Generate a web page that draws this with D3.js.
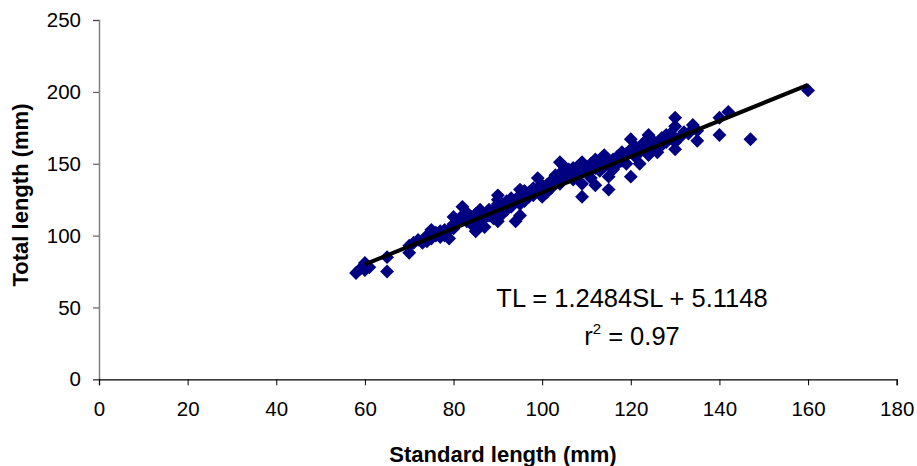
<!DOCTYPE html>
<html>
<head>
<meta charset="utf-8">
<script src="https://cdn.jsdelivr.net/npm/d3@7"></script>
<style>
  body { margin: 0; background: #fff; }
  svg { display: block; font-family: Arial, "Liberation Sans", sans-serif; }
</style>
</head>
<body>
<svg id="chart" width="917" height="466"></svg>
<script>
// standard length (mm) / total length (mm)
var standardLength = [58, 59, 60, 60, 61, 65, 65,
  70, 70, 71, 72, 73, 74, 74, 75, 75, 76, 76, 77, 77,
  78, 78, 79, 79, 80, 80, 80, 81, 82, 82, 83, 83,
  84, 84, 85, 85, 85, 86, 86, 87, 87, 88, 88,
  89, 89, 90, 90, 90, 90, 91, 91, 92, 92,
  93, 93, 94, 94, 95, 95, 95, 95, 96, 96, 96, 97, 97,
  98, 98, 99, 99, 100, 100, 100, 101, 101, 102, 102, 103, 103,
  104, 104, 104, 105, 105, 106, 106, 107, 107, 107, 108, 108,
  109, 109, 109, 110, 110, 111, 111, 112, 112, 112,
  113, 113, 114, 114, 115, 115, 115, 116, 116, 117, 117, 118, 118,
  119, 119, 120, 120, 120, 121, 121, 122, 122, 123, 123,
  124, 124, 125, 125, 126, 126, 127, 127, 128, 128,
  129, 130, 130, 130, 130, 131, 132, 133, 134, 135, 135,
  140, 140, 142, 147, 160];
var totalLength = [74, 77, 76, 81, 78, 85, 75,
  88, 93, 95, 97, 95, 96, 100, 98, 104, 100, 102, 99, 103,
  100, 104, 98, 104, 105, 108, 113, 110, 120, 114, 110, 116,
  108, 113, 103, 115, 112, 118, 108, 112, 106, 114, 118,
  118, 112, 128, 110, 122, 125, 115, 120, 118, 124,
  126, 120, 110, 125, 132, 122, 128, 114, 127, 124, 131, 130, 127,
  133, 128, 140, 133, 127, 135, 131, 135, 130, 138, 133, 137, 142,
  151, 143, 136, 148, 140, 141, 146, 147, 139, 144, 142, 148,
  151, 127, 136, 145, 148, 140, 150, 153, 135, 147,
  150, 145, 156, 148, 132, 141, 150, 146, 153, 150, 155, 152, 158,
  157, 150, 167, 141, 160, 155, 162, 158, 150, 160, 165,
  170, 156, 162, 166, 164, 158, 163, 168, 165, 170,
  171, 182, 160, 165, 176, 168, 172, 171, 177, 166, 173,
  182, 170, 186, 167, 201];

var xTicks = [0, 20, 40, 60, 80, 100, 120, 140, 160, 180];
var yTicks = [0, 50, 100, 150, 200, 250];

// fitted line TL = 1.2484SL + 5.1148
var slope = 1.2484, intercept = 5.1148;
var fitRange = [60, 160];

var points = standardLength.map((d, i) => ({ sl: d, tl: totalLength[i] }));

var svg = d3.select("#chart");

var x = d3.scaleLinear().domain([0, 180]).range([99, 896.7]);
var y = d3.scaleLinear().domain([0, 250]).range([379.3, 20]);

// y axis (grey line)
var yAxis = svg.append("g")
  .attr("transform", "translate(" + x(0) + ",0)")
  .call(d3.axisLeft(y).tickValues(yTicks).tickSize(6).tickPadding(12));
yAxis.select(".domain").attr("stroke", "#808080").attr("stroke-width", 1.5);
yAxis.selectAll(".tick line").attr("stroke", "#444");
yAxis.selectAll("text").attr("font-size", 20.5).attr("fill", "#000")
  .attr("font-family", "Arial, 'Liberation Sans', sans-serif");

// x axis
var xAxis = svg.append("g")
  .attr("transform", "translate(0," + y(0) + ")")
  .call(d3.axisBottom(x).tickValues(xTicks).tickSize(6));
xAxis.select(".domain").attr("stroke", "#000").attr("stroke-width", 1.3);
xAxis.selectAll(".tick line").attr("stroke", "#000");
xAxis.selectAll("text").attr("font-size", 20.5).attr("fill", "#000")
  .attr("y", 37).attr("dy", 0)
  .attr("font-family", "Arial, 'Liberation Sans', sans-serif");

// points
var diamond = d3.symbol().type(d3.symbolSquare).size(96);
svg.append("g").selectAll("path.pt")
  .data(points)
  .enter()
  .append("path")
  .classed("pt", true)
  .attr("d", diamond)
  .attr("transform", d => "translate(" + x(d.sl) + "," + y(d.tl) + ") rotate(45)")
  .attr("fill", "#000080");

// regression line
svg.append("line")
  .attr("x1", x(fitRange[0]))
  .attr("y1", y(slope * fitRange[0] + intercept))
  .attr("x2", x(fitRange[1]))
  .attr("y2", y(slope * fitRange[1] + intercept))
  .attr("stroke", "#000")
  .attr("stroke-width", 4);

// equation text
svg.append("text")
  .attr("x", 632).attr("y", 306.5)
  .attr("text-anchor", "middle")
  .attr("font-size", 25.5)
  .text("TL = 1.2484SL + 5.1148");

var r2 = svg.append("text")
  .attr("x", 632).attr("y", 345)
  .attr("text-anchor", "middle")
  .attr("font-size", 25.5);
r2.append("tspan").text("r");
r2.append("tspan").attr("font-size", 15).attr("dy", -11).text("2");
r2.append("tspan").attr("dy", 11).text(" = 0.97");

// axis titles
svg.append("text")
  .attr("x", 503).attr("y", 462)
  .attr("text-anchor", "middle")
  .attr("font-size", 22).attr("font-weight", "bold")
  .text("Standard length (mm)");

svg.append("text")
  .attr("transform", "translate(28,195) rotate(-90)")
  .attr("text-anchor", "middle")
  .attr("font-size", 22).attr("font-weight", "bold")
  .text("Total length (mm)");
</script>
</body>
</html>
